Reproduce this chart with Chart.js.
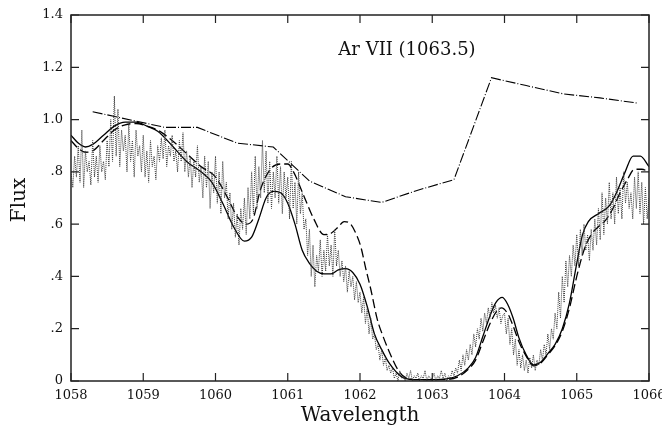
<!DOCTYPE html>
<html><head><meta charset="utf-8">
<script src="https://cdn.jsdelivr.net/npm/chart.js@4/dist/chart.umd.min.js"></script>
<style>html,body{margin:0;padding:0;background:#fff}canvas{display:block}</style>
</head><body>
<canvas id="c" width="662" height="429"></canvas>
<script>
// ---- data ----
const xTicks = [1058,1059,1060,1061,1062,1063,1064,1065,1066];
const yTicks = [0,0.2,0.4,0.6,0.8,1.0,1.2,1.4];
const lineLabel = 'Ar VII (1063.5)';

// observed spectrum, sampled every 0.025 Å from 1058.0
const obsStart = 1058.0, obsStep = 0.025;
const obsFlux = [
0.80,0.74,0.86,0.78,0.90,0.76,0.96,0.74,0.88,0.80,
0.84,0.75,0.92,0.78,0.86,0.76,0.90,0.80,0.84,0.77,
0.92,0.82,1.00,0.84,1.09,0.86,1.04,0.82,0.96,0.88,
0.94,0.80,0.98,0.84,0.92,0.78,0.96,0.86,0.90,0.80,
0.94,0.78,0.88,0.76,0.92,0.82,0.86,0.77,0.90,0.84,
0.93,0.85,0.96,0.82,0.90,0.86,0.94,0.84,0.88,0.80,
0.92,0.84,0.95,0.80,0.88,0.78,0.86,0.74,0.84,0.78,
0.90,0.76,0.82,0.70,0.86,0.74,0.84,0.66,0.80,0.72,
0.86,0.68,0.80,0.64,0.84,0.70,0.76,0.62,0.72,0.58,
0.68,0.55,0.64,0.52,0.66,0.58,0.70,0.56,0.74,0.62,
0.80,0.64,0.86,0.66,0.82,0.70,0.92,0.72,0.88,0.68,
0.84,0.66,0.80,0.70,0.86,0.68,0.82,0.64,0.80,0.70,
0.78,0.62,0.84,0.66,0.76,0.60,0.80,0.64,0.72,0.58,
0.62,0.48,0.58,0.40,0.52,0.36,0.48,0.42,0.54,0.40,
0.50,0.42,0.56,0.44,0.52,0.40,0.58,0.44,0.50,0.40,
0.46,0.38,0.44,0.34,0.42,0.36,0.40,0.31,0.38,0.30,
0.34,0.26,0.32,0.22,0.28,0.18,0.24,0.16,0.18,0.12,
0.14,0.08,0.12,0.06,0.09,0.04,0.06,0.03,0.05,0.01,
0.03,0.00,0.04,0.01,0.02,0.00,0.03,0.01,0.04,0.00,
0.02,0.01,0.03,0.00,0.02,0.01,0.04,0.00,0.02,0.01,
0.01,0.03,0.00,0.02,0.01,0.04,0.01,0.03,0.00,0.02,
0.01,0.04,0.02,0.05,0.03,0.08,0.04,0.10,0.06,0.12,
0.08,0.14,0.10,0.18,0.13,0.20,0.16,0.24,0.19,0.26,
0.22,0.28,0.24,0.30,0.26,0.29,0.24,0.28,0.22,0.25,
0.26,0.18,0.24,0.14,0.20,0.10,0.16,0.06,0.12,0.05,
0.10,0.04,0.08,0.03,0.09,0.05,0.10,0.04,0.08,0.06,
0.12,0.08,0.14,0.10,0.18,0.12,0.20,0.16,0.26,0.20,
0.34,0.24,0.40,0.30,0.46,0.36,0.48,0.40,0.52,0.44,
0.56,0.44,0.58,0.48,0.60,0.50,0.56,0.46,0.58,0.50,
0.62,0.52,0.66,0.54,0.72,0.56,0.70,0.60,0.76,0.62,
0.72,0.60,0.78,0.64,0.74,0.62,0.80,0.68,0.76,0.66,
0.72,0.62,0.78,0.66,0.80,0.64,0.76,0.60,0.74,0.62,
0.70
];

// model 1 (solid)
const solidWave = [1058.0,1058.1,1058.2,1058.3,1058.45,1058.6,1058.75,1058.9,1059.05,1059.2,1059.4,1059.6,1059.8,1059.95,1060.1,1060.25,1060.4,1060.5,1060.6,1060.7,1060.8,1060.9,1061.0,1061.1,1061.2,1061.3,1061.4,1061.5,1061.6,1061.7,1061.8,1061.9,1062.0,1062.1,1062.2,1062.3,1062.4,1062.5,1062.6,1062.8,1063.0,1063.2,1063.35,1063.5,1063.6,1063.7,1063.8,1063.88,1063.97,1064.05,1064.12,1064.2,1064.3,1064.4,1064.5,1064.6,1064.7,1064.8,1064.9,1065.0,1065.08,1065.16,1065.3,1065.45,1065.55,1065.67,1065.78,1065.88,1066.0];
const solidFlux = [0.94,0.91,0.895,0.905,0.94,0.975,0.99,0.99,0.975,0.955,0.90,0.84,0.80,0.76,0.68,0.59,0.535,0.55,0.62,0.70,0.725,0.72,0.68,0.60,0.50,0.45,0.42,0.41,0.41,0.425,0.43,0.415,0.37,0.285,0.18,0.12,0.07,0.035,0.012,0.005,0.005,0.008,0.02,0.05,0.09,0.17,0.25,0.30,0.32,0.29,0.24,0.165,0.10,0.062,0.072,0.105,0.14,0.20,0.30,0.45,0.56,0.61,0.64,0.67,0.72,0.80,0.86,0.86,0.82];

// model 2 (dashed)
const dashWave = [1058.0,1058.1,1058.2,1058.3,1058.45,1058.6,1058.75,1058.9,1059.05,1059.2,1059.4,1059.6,1059.8,1060.0,1060.15,1060.3,1060.42,1060.52,1060.62,1060.76,1060.9,1061.0,1061.08,1061.22,1061.36,1061.5,1061.6,1061.7,1061.78,1061.87,1061.95,1062.01,1062.08,1062.15,1062.24,1062.32,1062.4,1062.52,1062.62,1062.8,1063.0,1063.2,1063.35,1063.5,1063.6,1063.7,1063.8,1063.9,1063.96,1064.05,1064.12,1064.2,1064.3,1064.4,1064.5,1064.6,1064.7,1064.8,1064.9,1065.0,1065.1,1065.2,1065.3,1065.4,1065.5,1065.6,1065.7,1065.8,1065.9,1066.0];
const dashFlux = [0.92,0.89,0.875,0.88,0.92,0.96,0.98,0.985,0.975,0.96,0.92,0.87,0.82,0.78,0.71,0.63,0.60,0.62,0.73,0.81,0.83,0.83,0.80,0.71,0.62,0.56,0.565,0.59,0.61,0.60,0.56,0.515,0.43,0.35,0.235,0.17,0.115,0.045,0.015,0.005,0.005,0.006,0.015,0.045,0.08,0.15,0.22,0.27,0.28,0.255,0.21,0.15,0.095,0.058,0.068,0.10,0.135,0.19,0.28,0.40,0.50,0.56,0.59,0.615,0.66,0.72,0.77,0.81,0.81,0.80];

// model 3 (dash-dot continuum)
const contWave = [1058.3,1059.3,1059.75,1060.3,1060.8,1061.3,1061.8,1062.3,1062.8,1063.3,1063.82,1064.3,1064.82,1065.32,1065.84];
const contFlux = [1.03,0.97,0.97,0.91,0.895,0.765,0.705,0.683,0.73,0.77,1.16,1.13,1.098,1.083,1.063];

// ---- build ----
const toXY = (w, f) => w.map((x, i) => ({x, y: f[i]}));
const obsData = obsFlux.map((f, i) => ({x: obsStart + i * obsStep, y: f}));

const FONT = "'DejaVu Serif', serif";

const frame = {
  id: 'frame',
  afterDraw(chart) {
    const {ctx, chartArea: a, scales: {x, y}} = chart;
    ctx.save();
    ctx.strokeStyle = '#222';
    ctx.lineWidth = 1.5;
    ctx.strokeRect(a.left, a.top, a.right - a.left, a.bottom - a.top);
    ctx.lineWidth = 1.2;
    const L = 8;
    ctx.beginPath();
    xTicks.forEach(v => {
      const p = x.getPixelForValue(v);
      ctx.moveTo(p, a.bottom); ctx.lineTo(p, a.bottom - L);
      ctx.moveTo(p, a.top); ctx.lineTo(p, a.top + L);
    });
    yTicks.forEach(v => {
      const p = y.getPixelForValue(v);
      ctx.moveTo(a.left, p); ctx.lineTo(a.left + L, p);
      ctx.moveTo(a.right, p); ctx.lineTo(a.right - L, p);
    });
    ctx.stroke();
    // texts
    ctx.fillStyle = '#111';
    ctx.font = "18px " + FONT;
    ctx.textAlign = 'left';
    ctx.textBaseline = 'alphabetic';
    ctx.fillText(lineLabel, x.getPixelForValue(1061.7), y.getPixelForValue(1.247));
    ctx.font = "20px " + FONT;
    ctx.textAlign = 'center';
    ctx.textBaseline = 'middle';
    ctx.fillText('Wavelength', (a.left + a.right) / 2, 416);
    ctx.translate(20, (a.top + a.bottom) / 2 + 2);
    ctx.rotate(-Math.PI / 2);
    ctx.fillText('Flux', 0, 0);
    ctx.restore();
  }
};

new Chart(document.getElementById('c'), {
  type: 'line',
  data: {
    datasets: [
      {data: obsData, borderColor: '#3a3a3a', borderWidth: 1, borderDash: [1, 1], pointRadius: 0, tension: 0},
      {data: toXY(solidWave, solidFlux), borderColor: '#000', borderWidth: 1.3, pointRadius: 0, cubicInterpolationMode: 'monotone'},
      {data: toXY(dashWave, dashFlux), borderColor: '#000', borderWidth: 1.3, borderDash: [9, 4], pointRadius: 0, cubicInterpolationMode: 'monotone'},
      {data: toXY(contWave, contFlux), borderColor: '#000', borderWidth: 1.1, borderDash: [10, 2, 1, 2], pointRadius: 0, tension: 0}
    ]
  },
  options: {
    responsive: false,
    animation: false,
    devicePixelRatio: 1,
    layout: {padding: {left: 0, top: 15, right: 13, bottom: 0}},
    plugins: {legend: {display: false}, tooltip: {enabled: false}},
    scales: {
      x: {
        type: 'linear', min: 1058, max: 1066,
        afterBuildTicks: s => { s.ticks = xTicks.map(v => ({value: v})); },
        afterFit: s => { s.height = 48; s.paddingLeft = 0; s.paddingRight = 0; },
        grid: {display: false, drawTicks: false},
        border: {display: false},
        ticks: {color: '#111', font: {family: FONT, size: 13}, padding: 7, maxRotation: 0, callback: v => String(v)}
      },
      y: {
        type: 'linear', min: 0, max: 1.4,
        afterBuildTicks: s => { s.ticks = yTicks.map(v => ({value: v})); },
        afterFit: s => { s.width = 71; s.paddingTop = 0; s.paddingBottom = 0; },
        grid: {display: false, drawTicks: false},
        border: {display: false},
        ticks: {color: '#111', font: {family: FONT, size: 13}, padding: 8,
          callback: v => { const t = Number(v).toFixed(1); return v === 0 ? '0' : (v < 1 ? t.slice(1) : t); }}
      }
    }
  },
  plugins: [frame]
});
</script>
</body></html>
